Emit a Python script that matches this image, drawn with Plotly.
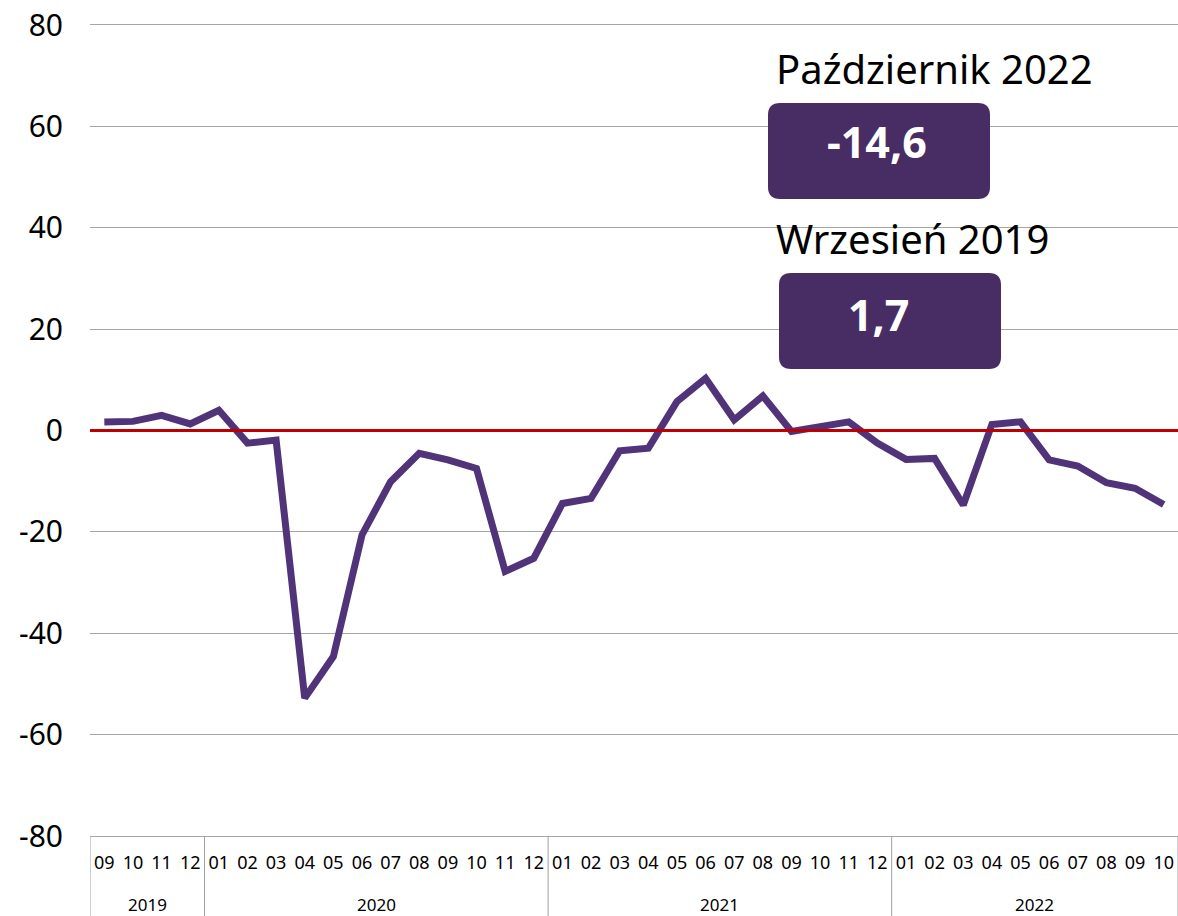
import plotly.graph_objects as go

years = ["2019"] * 4 + ["2020"] * 12 + ["2021"] * 12 + ["2022"] * 10
months = ["09", "10", "11", "12"] + [f"{m:02d}" for m in range(1, 13)] * 2 + [f"{m:02d}" for m in range(1, 11)]
values = [1.7, 1.8, 3.0, 1.3, 4.0, -2.5, -1.9, -52.8, -44.6, -20.6, -10.1, -4.5, -5.8, -7.5, -27.8, -25.2,
          -14.4, -13.4, -4.0, -3.5, 5.7, 10.3, 2.1, 6.8, -0.2, 0.9, 1.7, -2.5, -5.7, -5.5, -14.7, 1.2,
          1.7, -5.8, -7.0, -10.3, -11.4, -14.6]
y_ticks = [-80, -60, -40, -20, 0, 20, 40, 60, 80]

label_latest = "Październik 2022"
value_latest = "-14,6"
label_first = "Wrzesień 2019"
value_first = "1,7"

FONT = "Noto Sans"
LINE = "#51337a"
BOX = "#482d64"
GRID = "#a6a6a6"
DIV = "#a0a0a0"

W, H = 1178, 916
PX0, PX1, PY0, PY1 = 90, 1178, 25, 836          # plot area in page pixels
L, R, T, B = PX0, W - PX1, PY0, H - PY1
PW, PH = PX1 - PX0, PY1 - PY0


def px2paper(x, y):
    return (x - PX0) / PW, (PY1 - y) / PH


def rounded_rect(x0, y0, x1, y1, r=12):
    rx, ry = r / PW, r / PH
    a0, b1 = px2paper(x0, y0)
    a1, b0 = px2paper(x1, y1)
    return (f"M {a0+rx},{b1} L {a1-rx},{b1} Q {a1},{b1} {a1},{b1-ry} "
            f"L {a1},{b0+ry} Q {a1},{b0} {a1-rx},{b0} "
            f"L {a0+rx},{b0} Q {a0},{b0} {a0},{b0+ry} "
            f"L {a0},{b1-ry} Q {a0},{b1} {a0+rx},{b1} Z")


idx = list(range(len(months)))

fig = go.Figure()
fig.add_trace(go.Scatter(
    x=idx, y=values, mode="lines",
    line=dict(color=LINE, width=7), showlegend=False, hoverinfo="skip"))

_, y_bottom = px2paper(0, 916)
_, y_year = px2paper(0, 904)

shapes = []
groups = []
for i, yv in enumerate(years):
    if not groups or groups[-1][0] != yv:
        groups.append([yv, i, i])
    else:
        groups[-1][2] = i
bounds = sorted({g[1] - 0.5 for g in groups} | {groups[-1][2] + 0.5})
for bx in bounds:
    shapes.append(dict(type="line", xref="x", yref="paper", x0=bx, x1=bx, y0=0, y1=y_bottom,
                       line=dict(color=DIV, width=1)))

wx0, wy1 = px2paper(757, 214)
wx1, wy0 = px2paper(1068, 250)
shapes += [
    dict(type="rect", xref="paper", yref="paper", x0=wx0, x1=wx1, y0=wy0, y1=wy1,
         fillcolor="white", line=dict(width=0), layer="between"),
    dict(type="line", xref="paper", yref="y", x0=0, x1=1, y0=0, y1=0,
         line=dict(color="#c00000", width=3), layer="above"),
    dict(type="path", xref="paper", yref="paper", path=rounded_rect(768, 103, 990, 199),
         fillcolor=BOX, line=dict(width=0), layer="above"),
    dict(type="path", xref="paper", yref="paper", path=rounded_rect(779, 273, 1001, 369),
         fillcolor=BOX, line=dict(width=0), layer="above"),
]

ann = []
for yv, i0, i1 in groups:
    ann.append(dict(xref="x", yref="paper", x=(i0 + i1) / 2, y=y_year, xanchor="center",
                    yanchor="middle", text=yv, showarrow=False,
                    font=dict(family=FONT, size=17, color="black")))

for text, (cx, cy), color, bold, size in [
    (label_latest, (934, 69), "black", False, 40),
    (label_first, (912, 238), "black", False, 40),
    (value_latest, (877, 141), "white", True, 43),
    (value_first, (878, 314), "white", True, 43),
]:
    xp, yp = px2paper(cx, cy)
    ann.append(dict(
        xref="paper", yref="paper", x=xp, y=yp, xanchor="center", yanchor="middle",
        text=f"<b>{text}</b>" if bold else text, showarrow=False,
        font=dict(family=FONT, size=size, color=color)))

fig.update_layout(
    width=W, height=H,
    margin=dict(l=L, r=R, t=T, b=B, autoexpand=False),
    paper_bgcolor="white", plot_bgcolor="white",
    font=dict(family=FONT, color="black"),
    shapes=shapes, annotations=ann,
    xaxis=dict(
        range=[-0.5, len(months) - 0.5], tickvals=idx, ticktext=months,
        tickangle=0, showgrid=False, automargin=False,
        tickfont=dict(family=FONT, size=18, color="black"),
        showline=True, linecolor=GRID, linewidth=1, mirror=True,
        ticks="", zeroline=False, ticklabelstandoff=10, ticklabeloverflow="allow"),
    yaxis=dict(
        range=[-80, 80], tickvals=y_ticks, ticktext=[str(v) for v in y_ticks],
        showgrid=True, gridcolor=GRID, gridwidth=1, automargin=False,
        zeroline=False, showline=False, ticks="",
        tickfont=dict(family=FONT, size=30, color="black"),
        ticklabelstandoff=26, ticklabeloverflow="allow"),
)

fig.write_html(
    "out.html",
    config={"displayModeBar": False},
    post_script="document.body.style.margin='0';document.body.style.overflow='hidden';")
